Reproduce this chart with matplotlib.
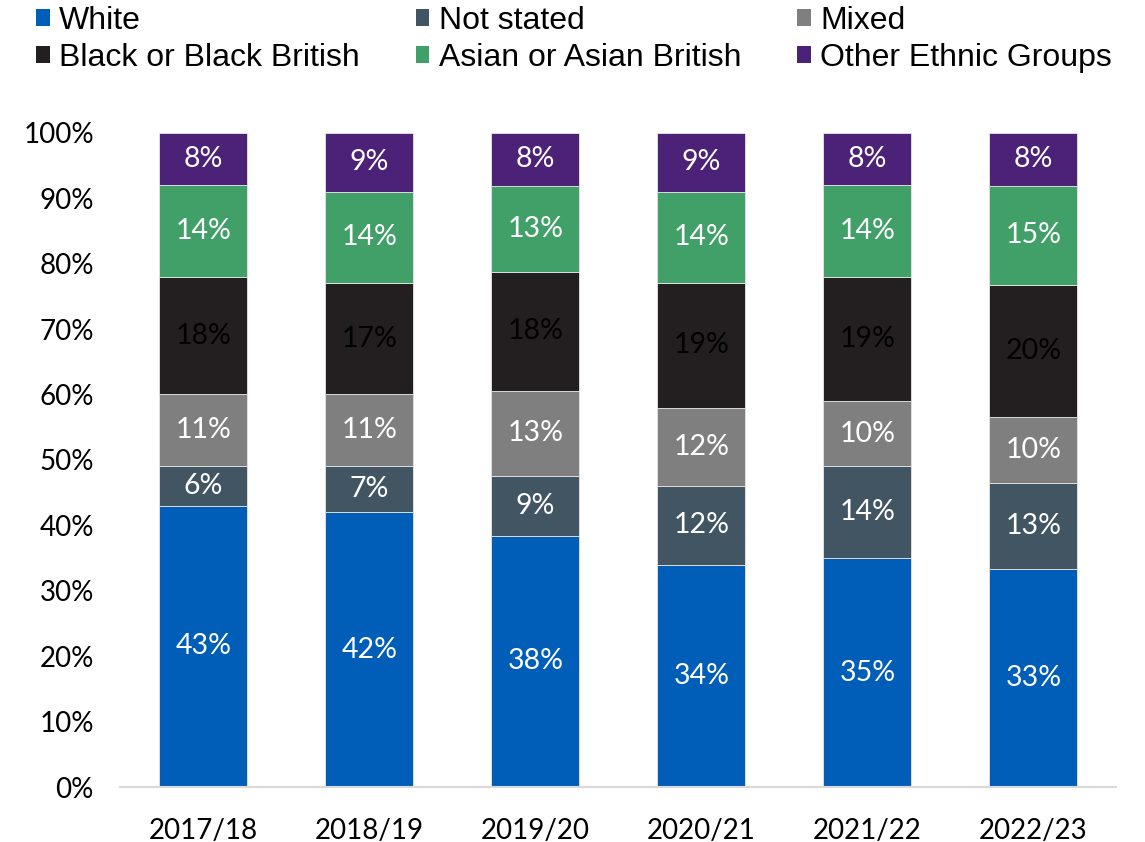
import numpy as np
import matplotlib.pyplot as plt
from matplotlib.patches import Patch

# Share of people by ethnic group, per year (percent)
years = ['2017/18', '2018/19', '2019/20', '2020/21', '2021/22', '2022/23']
white = [43, 42, 38, 34, 35, 33]
not_stated = [6, 7, 9, 12, 14, 13]
mixed = [11, 11, 13, 12, 10, 10]
black = [18, 17, 18, 19, 19, 20]
asian = [14, 14, 13, 14, 14, 15]
other = [8, 9, 8, 9, 8, 8]

groups = ['White', 'Not stated', 'Mixed', 'Black or Black British',
          'Asian or Asian British', 'Other Ethnic Groups']
series = [white, not_stated, mixed, black, asian, other]
colors = ['#005EB8', '#425563', '#7F7F7F', '#231F20', '#41A067', '#4C2178']
text_colors = ['white', 'white', 'white', 'black', 'white', 'white']

fig = plt.figure(figsize=(11.45, 8.42), dpi=100)
ax = fig.add_axes([0.105, 0.0653, 0.870, 0.777])

x = np.arange(len(years))
data = np.array(series, dtype=float)
# 100% stacked: each column scaled to its own total
shares = data / data.sum(axis=0) * 100
bottom = np.zeros(len(years))
for vals, raw, col, tc in zip(shares, data, colors, text_colors):
    ax.bar(x, vals, width=0.53, bottom=bottom, color=col,
           edgecolor='#E6E6E6', linewidth=0.6)
    for xi, b, v, r in zip(x, bottom, vals, raw):
        ax.text(xi, b + v / 2, f'{int(r)}%', ha='center', va='center',
                color=tc, fontsize=20.5, family='Lato')
    bottom += vals

ax.set_xlim(-0.5, len(years) - 0.5)
ax.set_ylim(0, 100)
ax.set_yticks(np.arange(0, 101, 10))
ax.set_yticklabels([f'{v}%' for v in range(0, 101, 10)])
ax.set_xticks(x)
ax.set_xticklabels(years)
for lbl in ax.get_xticklabels() + ax.get_yticklabels():
    lbl.set_family('Lato')
    lbl.set_fontsize(20)
ax.tick_params(length=0)
ax.tick_params(axis='x', pad=22)
ax.tick_params(axis='y', pad=19)
for s in ['top', 'right', 'left']:
    ax.spines[s].set_visible(False)
ax.spines['bottom'].set_color('#D9D9D9')
ax.spines['bottom'].set_linewidth(1.5)

# legend laid out row by row, three per row
order = [0, 3, 1, 4, 2, 5]
handles = [Patch(facecolor=colors[i], label=groups[i]) for i in order]
fig.legend(handles=handles, loc='upper left', bbox_to_anchor=(0.015, 1.016),
           ncol=3, frameon=False, prop={'family': 'Liberation Sans', 'size': 23},
           handlelength=0.42, handleheight=0.42, handletextpad=0.3,
           columnspacing=1.75, labelspacing=0.22, borderaxespad=0.2)

fig.savefig('out.png', dpi=100)
